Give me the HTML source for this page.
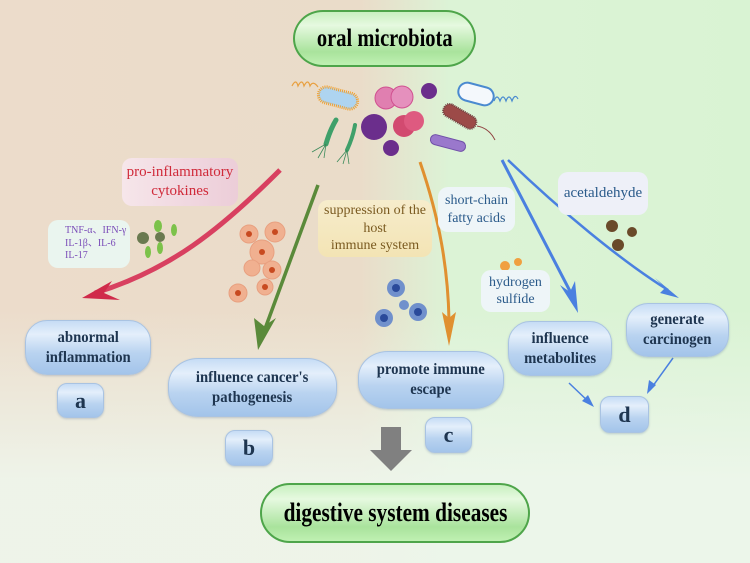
<!DOCTYPE html>
<html><head><meta charset="utf-8"><style>
html,body{margin:0;padding:0}
body{width:750px;height:563px;position:relative;overflow:hidden;font-family:"Liberation Serif",serif;
background:linear-gradient(180deg,rgba(255,255,255,0) 55%,rgba(238,246,236,0.9) 85%),linear-gradient(90deg,#ecdccb 0%,#eadcc9 48%,#dcf3d6 60%,#d9f3d3 100%);}
.bx{position:absolute;box-sizing:border-box;display:flex;align-items:center;justify-content:center;text-align:center;font-weight:bold;color:#1e3550;
border:1.5px solid #a9c3e2;border-radius:22px/40%;background:linear-gradient(180deg,#c6dcf5 0%,#e4effb 25%,#b9d3f0 60%,#a3c4ea 100%);box-shadow:0 1px 2px rgba(80,110,150,.3);line-height:1.25}
.gp{position:absolute;box-sizing:border-box;display:flex;align-items:center;justify-content:center;font-weight:bold;color:#000;white-space:nowrap;
border:2px solid #4ea54a;border-radius:30px/50%;background:linear-gradient(180deg,#c9f0c0 0%,#e6f9e0 25%,#a9e39c 75%,#bff0b2 100%)}
.gp span{display:inline-block;transform:scaleX(.82)}
.bx span{display:inline-block;transform:scaleX(.92)}
.lb{position:absolute;box-sizing:border-box;display:flex;align-items:center;justify-content:center;text-align:center;border-radius:10px;line-height:1.25}
</style></head><body>
<svg width="750" height="563" style="position:absolute;left:0;top:0">
<g>
<path d="M292,86 q4,-8 6,0 q4,-8 6,0 q4,-8 6,0 q3,-6 8,1" stroke="#e8a040" fill="none" stroke-width="1.2"/>
<rect x="318" y="90" width="40" height="16" rx="8" transform="rotate(15 338 98)" fill="#aed4f0" stroke="#f0a030" stroke-width="3" stroke-dasharray="1 1"/>
<circle cx="386" cy="98" r="11" fill="#e07fb0" stroke="#d05090"/>
<circle cx="402" cy="97" r="11" fill="#e590bd" stroke="#d05090"/>
<circle cx="429" cy="91" r="8" fill="#6b2e8c"/>
<rect x="458" y="85" width="36" height="18" rx="9" transform="rotate(15 476 94)" fill="#f4f8fc" stroke="#4a8ad0" stroke-width="2"/>
<path d="M494,101 q3,-8 6,0 q3,-8 6,0 q3,-8 6,0 q3,-8 6,-2" stroke="#4a8ad0" fill="none" stroke-width="1.2"/>
<rect x="442" y="110" width="36" height="13" rx="6" transform="rotate(30 460 116)" fill="#9c4a48" stroke="#704040" stroke-width="2" stroke-dasharray="1 1"/>
<path d="M477,126 q12,2 18,14" stroke="#904040" fill="none"/>
<circle cx="374" cy="127" r="13" fill="#6b2e8c"/>
<circle cx="404" cy="126" r="11" fill="#d24a70"/>
<circle cx="414" cy="121" r="10" fill="#de5a80"/>
<circle cx="391" cy="148" r="8" fill="#6b2e8c"/>
<rect x="430" y="138" width="36" height="10" rx="5" transform="rotate(15 448 143)" fill="#9a78cc" stroke="#7050a8"/>
<path d="M336,120 q-6,10 -10,24" stroke="#3fa06a" stroke-width="5" fill="none" stroke-linecap="round"/>
<path d="M326,144 l-14,8 M326,144 l-8,14 M326,144 l-2,14" stroke="#3a8a5a" fill="none" stroke-width=".8"/>
<path d="M355,125 q-2,12 -8,25" stroke="#3fa06a" stroke-width="4" fill="none" stroke-linecap="round"/>
<path d="M347,150 l-10,12 M347,150 l-4,14 M347,150 l2,14" stroke="#3a8a5a" fill="none" stroke-width=".8"/>
</g>
<g fill="#6a7a50"><circle cx="143" cy="238" r="6"/><circle cx="160" cy="237" r="5"/></g>
<g fill="#7cc24a"><ellipse cx="158" cy="226" rx="4" ry="6"/><ellipse cx="174" cy="230" rx="3" ry="6"/><ellipse cx="148" cy="252" rx="3" ry="6"/><ellipse cx="160" cy="248" rx="3" ry="6"/></g>
<g fill="#f0b090" stroke="#e8a080"><circle cx="249" cy="234" r="9"/><circle cx="275" cy="232" r="10"/><circle cx="262" cy="252" r="12"/><circle cx="272" cy="270" r="9"/><circle cx="252" cy="268" r="8"/><circle cx="238" cy="293" r="9"/><circle cx="265" cy="287" r="8"/></g>
<g fill="#c84a20"><circle cx="249" cy="234" r="3"/><circle cx="275" cy="232" r="3"/><circle cx="262" cy="252" r="3"/><circle cx="272" cy="270" r="3"/><circle cx="238" cy="293" r="3"/><circle cx="265" cy="287" r="3"/></g>
<g fill="#7090cc"><circle cx="396" cy="288" r="9"/><circle cx="384" cy="318" r="9"/><circle cx="418" cy="312" r="9"/><circle cx="404" cy="305" r="5"/></g>
<g fill="#2a4a9a"><circle cx="396" cy="288" r="4"/><circle cx="384" cy="318" r="4"/><circle cx="418" cy="312" r="4"/></g>
<g fill="#f0a040"><circle cx="505" cy="266" r="5"/><circle cx="518" cy="262" r="4"/><circle cx="503" cy="280" r="4"/><circle cx="526" cy="285" r="6"/></g>
<circle cx="510" cy="292" r="4" fill="#e06030"/>
<g fill="#6a4a2a"><circle cx="612" cy="226" r="6"/><circle cx="632" cy="232" r="5"/><circle cx="618" cy="245" r="6"/></g>
<path d="M280,170 C220,230 170,270 95,293" stroke="#d84060" stroke-width="5" fill="none"/>
<path d="M82,298 L112,281 L104,293 L120,300 Z" fill="#d02a4a"/>
<path d="M318,185 L262,337" stroke="#5a8a3a" stroke-width="3.5" fill="none"/>
<path d="M258,350 L254,318 L264,326 L276,318 Z" fill="#5a8a3a"/>
<path d="M420,162 C440,220 448,270 449,320" stroke="#e09030" stroke-width="3" fill="none"/>
<path d="M449,346 L442,312 L449,318 L456,312 Z" fill="#e09030"/>
<path d="M502,160 L572,295" stroke="#4a80e0" stroke-width="3" fill="none"/>
<path d="M578,313 L560,285 L570,292 L575,281 Z" fill="#4a80e0"/>
<path d="M508,160 C560,210 620,260 668,290" stroke="#4a80e0" stroke-width="2.5" fill="none"/>
<path d="M679,298 L655,278 L665,288 L660,293 Z" fill="#4a80e0"/>
<path d="M569,383 L591,404" stroke="#4a80e0" stroke-width="1.5"/><path d="M594,407 L582,401 L588,395 Z" fill="#4a80e0"/>
<path d="M673,358 L650,390" stroke="#4a80e0" stroke-width="1.5"/><path d="M647,394 L649,380 L656,385 Z" fill="#4a80e0"/>
<path d="M381,427 H401 V450 H412 L391,471 L370,450 H381 Z" fill="#808080"/>
</svg>

<div class="gp" style="left:293px;top:10px;width:183px;height:57px;font-size:25px"><span>oral microbiota</span></div>
<div class="gp" style="left:260px;top:483px;width:270px;height:60px;font-size:26px"><span>digestive system diseases</span></div>

<div class="lb" style="left:122px;top:158px;width:116px;height:48px;background:linear-gradient(90deg,#f6e6ea,#eccdd8);color:#d02a3a;font-size:15px">pro-inflammatory<br>cytokines</div>
<div class="lb" style="left:48px;top:220px;width:82px;height:48px;background:#eaf5ef;color:#7a4cb8;font-size:10px;text-align:left;justify-content:flex-start;padding-left:17px">TNF-α、IFN-γ<br>IL-1β、IL-6<br>IL-17</div>
<div class="lb" style="left:318px;top:200px;width:114px;height:57px;background:linear-gradient(180deg,#f6eccc,#f3e4b4);color:#7a5a20;font-size:14px">suppression of the<br>host<br>immune system</div>
<div class="lb" style="left:438px;top:187px;width:77px;height:45px;background:#eef5f8;color:#2a5a8a;font-size:14px">short-chain<br>fatty acids</div>
<div class="lb" style="left:558px;top:172px;width:90px;height:43px;background:#eef0f8;color:#2a5a8a;font-size:15px">acetaldehyde</div>
<div class="lb" style="left:481px;top:270px;width:69px;height:42px;background:#eef5f8;color:#2a5a8a;font-size:14px">hydrogen<br>sulfide</div>

<div class="bx" style="left:25px;top:320px;width:126px;height:55px;font-size:16px"><span>abnormal<br>inflammation</span></div>
<div class="bx" style="left:57px;top:383px;width:47px;height:35px;font-size:22px;border-radius:10px">a</div>
<div class="bx" style="left:168px;top:358px;width:169px;height:59px;font-size:16px;border-radius:30px/45%"><span>influence cancer's<br>pathogenesis</span></div>
<div class="bx" style="left:225px;top:430px;width:48px;height:36px;font-size:22px;border-radius:10px">b</div>
<div class="bx" style="left:358px;top:351px;width:146px;height:58px;font-size:16px;border-radius:30px/45%"><span>promote immune<br>escape</span></div>
<div class="bx" style="left:425px;top:417px;width:47px;height:36px;font-size:22px;border-radius:10px">c</div>
<div class="bx" style="left:508px;top:321px;width:104px;height:55px;font-size:16px"><span>influence<br>metabolites</span></div>
<div class="bx" style="left:600px;top:396px;width:49px;height:37px;font-size:22px;border-radius:10px">d</div>
<div class="bx" style="left:626px;top:303px;width:103px;height:54px;font-size:16px"><span>generate<br>carcinogen</span></div>
</body></html>
